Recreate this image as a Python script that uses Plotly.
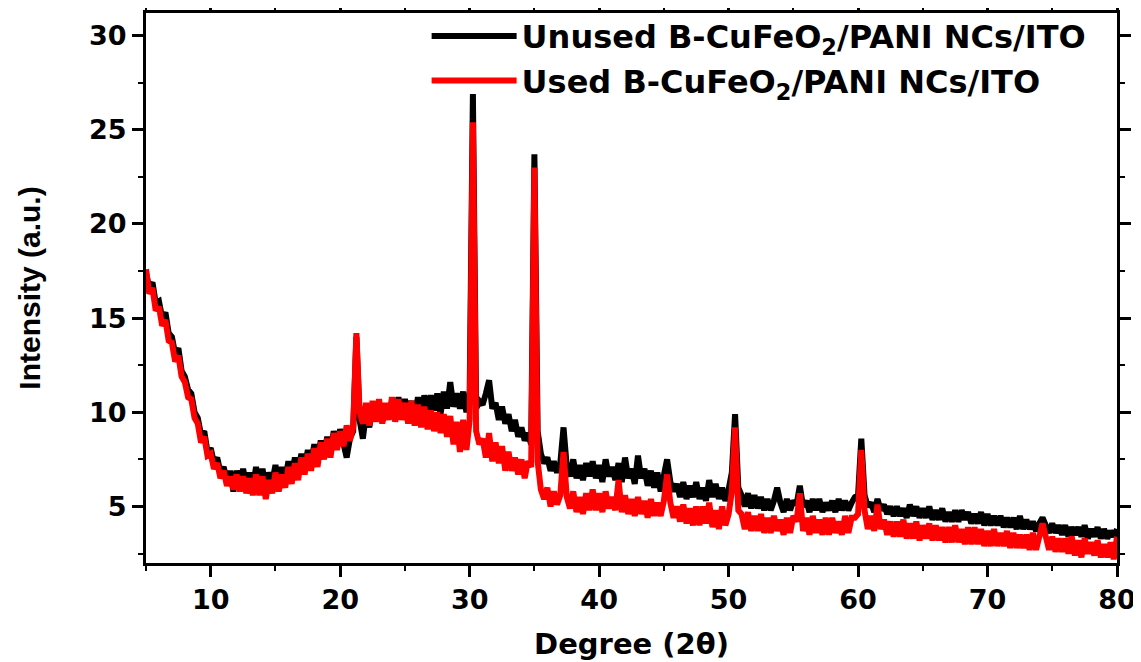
import numpy as np
import plotly.graph_objects as go

# sampling positions (2-theta, degrees): 5.00, 5.25, ... 80.00
two_theta_start = 5.0
two_theta_step = 0.25

unused_intensity = [
    17.4, 16.6, 16.9, 15.8,   # 5
    15.9, 15.0, 15.3, 14.2,   # 6
    14.0, 13.1, 13.4, 12.2,   # 7
    11.9, 11.2, 11.0, 10.0,   # 8
    9.7, 8.8, 9.0, 7.9,       # 9
    8.1, 7.3, 7.6, 6.8,       # 10
    7.1, 6.3, 6.9, 5.8,       # 11
    6.9, 6.2, 7.0, 6.1,       # 12
    6.8, 6.0, 7.1, 6.2,       # 13
    7.0, 5.9, 6.8, 6.3,       # 14
    7.2, 6.2, 7.1, 6.4,       # 15
    7.4, 6.6, 7.6, 6.8,       # 16
    7.8, 7.0, 8.0, 7.3,       # 17
    8.3, 7.4, 8.5, 7.8,       # 18
    8.7, 7.8, 9.0, 8.2,       # 19
    9.1, 8.4, 7.6, 8.6,       # 20
    9.0, 14.0, 9.6, 8.6,      # 21
    10.0, 9.2, 10.4, 9.6,     # 22
    10.5, 9.5, 10.3, 9.7,     # 23
    10.6, 9.6, 10.8, 9.8,     # 24
    10.7, 9.9, 10.6, 9.5,     # 25
    10.8, 9.8, 10.9, 10.0,    # 26
    10.9, 10.1, 11.0, 9.9,    # 27
    11.1, 10.2, 11.6, 10.3,   # 28
    11.0, 10.2, 11.1, 10.0,   # 29
    11.0, 26.9, 10.2, 10.6,   # 30
    10.4, 11.0, 11.7, 10.2,   # 31
    10.5, 9.6, 10.3, 9.4,     # 32
    9.9, 9.0, 9.6, 8.7,       # 33
    9.2, 8.5, 8.9, 8.3,       # 34
    23.7, 9.0, 7.8, 7.3,      # 35
    7.6, 6.9, 7.4, 6.8,       # 36
    7.3, 9.2, 7.1, 6.6,       # 37
    7.5, 6.5, 7.2, 6.4,       # 38
    7.3, 6.6, 7.4, 6.5,       # 39
    7.2, 6.3, 7.5, 6.6,       # 40
    7.1, 6.4, 7.3, 6.3,       # 41
    7.6, 6.5, 7.0, 6.2,       # 42
    7.7, 6.5, 7.0, 6.1,       # 43
    6.9, 6.0, 6.8, 5.8,       # 44
    6.6, 7.5, 6.3, 5.8,       # 45
    6.2, 5.5, 6.3, 5.4,       # 46
    6.1, 5.5, 6.3, 5.4,       # 47
    6.0, 5.3, 6.4, 5.5,       # 48
    6.2, 5.4, 6.0, 5.3,       # 49
    5.9, 6.8, 9.9, 6.0,       # 50
    5.6, 5.0, 5.7, 4.9,       # 51
    5.6, 4.9, 5.5, 4.8,       # 52
    5.4, 4.8, 5.3, 6.0,       # 53
    5.2, 4.7, 5.4, 4.8,       # 54
    5.3, 5.1, 6.1, 5.0,       # 55
    5.3, 4.7, 5.4, 4.8,       # 56
    5.4, 4.7, 5.2, 4.8,       # 57
    5.3, 4.7, 5.4, 4.8,       # 58
    5.3, 4.8, 5.2, 5.5,       # 59
    5.6, 8.6, 5.6, 5.0,       # 60
    5.2, 4.7, 5.4, 4.8,       # 61
    5.1, 4.6, 5.0, 4.5,       # 62
    5.0, 4.5, 4.9, 4.4,       # 63
    5.1, 4.5, 5.0, 4.4,       # 64
    4.9, 4.4, 5.0, 4.3,       # 65
    4.8, 4.3, 4.9, 4.2,       # 66
    4.7, 4.2, 4.8, 4.2,       # 67
    4.8, 4.3, 4.7, 4.1,       # 68
    4.6, 4.1, 4.7, 4.0,       # 69
    4.6, 4.0, 4.5, 4.0,       # 70
    4.5, 3.9, 4.4, 3.9,       # 71
    4.4, 3.8, 4.5, 3.8,       # 72
    4.3, 3.8, 4.2, 3.7,       # 73
    4.1, 4.4, 4.0, 3.6,       # 74
    4.1, 3.6, 4.0, 3.5,       # 75
    4.0, 3.4, 3.9, 3.5,       # 76
    3.9, 3.4, 4.0, 3.3,       # 77
    3.8, 3.4, 3.9, 3.3,       # 78
    3.8, 3.3, 3.7, 3.4,       # 79
    3.8,                      # 80
]

used_intensity = [
    17.6, 16.3, 16.6, 15.4,   # 5
    15.6, 14.6, 14.9, 13.8,   # 6
    13.7, 12.7, 13.0, 11.9,   # 7
    11.6, 10.8, 10.7, 9.7,    # 8
    9.4, 8.4, 8.7, 7.7,       # 9
    7.8, 7.0, 7.3, 6.5,       # 10
    6.9, 6.1, 6.6, 5.9,       # 11
    6.7, 5.8, 6.6, 5.7,       # 12
    6.5, 5.6, 6.7, 5.6,       # 13
    6.6, 5.4, 6.4, 5.7,       # 14
    6.8, 5.8, 6.7, 6.0,       # 15
    7.1, 6.2, 7.3, 6.4,       # 16
    7.6, 6.7, 7.8, 6.9,       # 17
    8.1, 7.1, 8.4, 7.5,       # 18
    8.6, 7.6, 8.9, 8.0,       # 19
    9.0, 8.2, 9.3, 8.5,       # 20
    9.2, 14.2, 10.0, 9.4,     # 21
    10.5, 9.3, 10.6, 9.5,     # 22
    10.7, 9.4, 10.5, 9.6,     # 23
    10.8, 9.5, 10.7, 9.6,     # 24
    10.5, 9.4, 10.6, 9.3,     # 25
    10.4, 9.2, 10.3, 9.1,     # 26
    10.1, 9.0, 10.0, 8.9,     # 27
    9.9, 8.7, 9.8, 8.3,       # 28
    9.5, 7.9, 9.6, 8.0,       # 29
    9.6, 25.4, 9.0, 8.3,      # 30
    8.6, 7.6, 8.9, 7.4,       # 31
    8.4, 7.3, 8.2, 6.9,       # 32
    7.9, 6.9, 7.6, 6.7,       # 33
    7.5, 6.5, 7.4, 7.1,       # 34
    23.0, 7.4, 5.9, 5.4,      # 35
    6.0, 5.0, 5.8, 5.1,       # 36
    5.6, 7.9, 5.5, 4.9,       # 37
    5.8, 4.7, 5.5, 4.6,       # 38
    5.7, 4.8, 5.9, 4.8,       # 39
    5.7, 4.7, 5.8, 4.9,       # 40
    5.5, 4.8, 6.4, 4.7,       # 41
    5.6, 4.6, 5.4, 4.5,       # 42
    5.5, 4.6, 5.3, 4.4,       # 43
    5.4, 4.5, 5.2, 4.5,       # 44
    5.3, 6.7, 5.2, 4.4,       # 45
    5.0, 4.2, 5.1, 4.1,       # 46
    4.9, 4.0, 5.0, 4.0,       # 47
    5.0, 4.1, 5.2, 3.9,       # 48
    4.8, 3.8, 5.0, 4.0,       # 49
    4.6, 5.8, 9.2, 4.8,       # 50
    4.6, 3.8, 4.7, 3.7,       # 51
    4.5, 3.7, 4.6, 3.6,       # 52
    4.4, 3.6, 4.5, 3.7,       # 53
    4.3, 3.5, 4.4, 3.6,       # 54
    4.5, 4.2, 5.7, 3.7,       # 55
    4.4, 3.5, 4.5, 3.6,       # 56
    4.3, 3.5, 4.4, 3.5,       # 57
    4.4, 3.6, 4.2, 3.5,       # 58
    4.5, 3.6, 4.4, 4.4,       # 59
    4.6, 8.0, 4.8, 3.8,       # 60
    4.5, 3.7, 5.1, 3.8,       # 61
    4.3, 3.5, 4.2, 3.4,       # 62
    4.2, 3.4, 4.3, 3.3,       # 63
    4.1, 3.3, 4.2, 3.2,       # 64
    4.0, 3.3, 4.1, 3.2,       # 65
    4.0, 3.2, 3.9, 3.1,       # 66
    3.9, 3.1, 4.0, 3.1,       # 67
    3.8, 3.0, 3.9, 3.0,       # 68
    3.9, 3.0, 3.8, 2.9,       # 69
    3.7, 2.9, 3.8, 2.9,       # 70
    3.6, 2.9, 3.7, 2.8,       # 71
    3.6, 2.8, 3.5, 2.8,       # 72
    3.5, 2.7, 3.6, 2.7,       # 73
    3.4, 4.1, 3.4, 2.7,       # 74
    3.4, 2.6, 3.3, 2.6,       # 75
    3.3, 2.5, 3.4, 2.4,       # 76
    3.2, 2.3, 3.3, 2.5,       # 77
    3.1, 2.4, 3.2, 2.3,       # 78
    3.0, 2.3, 3.1, 2.2,       # 79
    3.4,                      # 80
]

series_names = ["Unused B-CuFeO<sub>2</sub>/PANI NCs/ITO",
                "Used B-CuFeO<sub>2</sub>/PANI NCs/ITO"]
series_colors = ["#000000", "#ff0000"]

x_tick_vals = [10, 20, 30, 40, 50, 60, 70, 80]
y_tick_vals = [5, 10, 15, 20, 25, 30]

two_theta = two_theta_start + two_theta_step * np.arange(len(unused_intensity))

fig = go.Figure()
for name, color, vals in zip(series_names, series_colors, [unused_intensity, used_intensity]):
    fig.add_trace(go.Scatter(x=two_theta, y=vals, mode="lines", name=name,
                             line=dict(color=color, width=6)))

tick_font = dict(size=27, family="DejaVu Sans", weight="bold", color="black")
axis_common = dict(showline=True, linecolor="black", linewidth=3, mirror="allticks",
                   ticks="outside", ticklen=11, tickwidth=2.5, tickcolor="black",
                   showgrid=False, zeroline=False, automargin=False,
                   tickfont=tick_font)

# the page body has an 8px margin, so the figure is sized to the visible area
fig.update_layout(
    width=1133, height=654,
    margin=dict(l=138, r=24, t=5, b=99, autoexpand=False),
    plot_bgcolor="white", paper_bgcolor="white",
    font=dict(family="Liberation Sans, Arial, sans-serif", color="black"),
    xaxis=dict(range=[5, 80], tickvals=x_tick_vals,
               title=dict(text="Degree (2θ)",
                          font=dict(size=29, family="DejaVu Sans", weight="bold"), standoff=20),
               minor=dict(ticks="outside", ticklen=5, tickwidth=2, tickcolor="black", dtick=5, tick0=5),
               **axis_common),
    yaxis=dict(range=[2.0, 31.2], tickvals=y_tick_vals,
               title=dict(text="Intensity (a.u.)",
                          font=dict(size=30, family="Liberation Sans", weight="bold"), standoff=40),
               minor=dict(ticks="outside", ticklen=5, tickwidth=2, tickcolor="black", dtick=2.5, tick0=0),
               **axis_common),
    legend=dict(x=0.289, y=1.008, xanchor="left", yanchor="top",
                bgcolor="rgba(0,0,0,0)", borderwidth=0,
                font=dict(size=32, family="DejaVu Sans", weight="bold"),
                itemwidth=85, tracegroupgap=0),
    showlegend=True,
)

fig.write_html("out.html")
